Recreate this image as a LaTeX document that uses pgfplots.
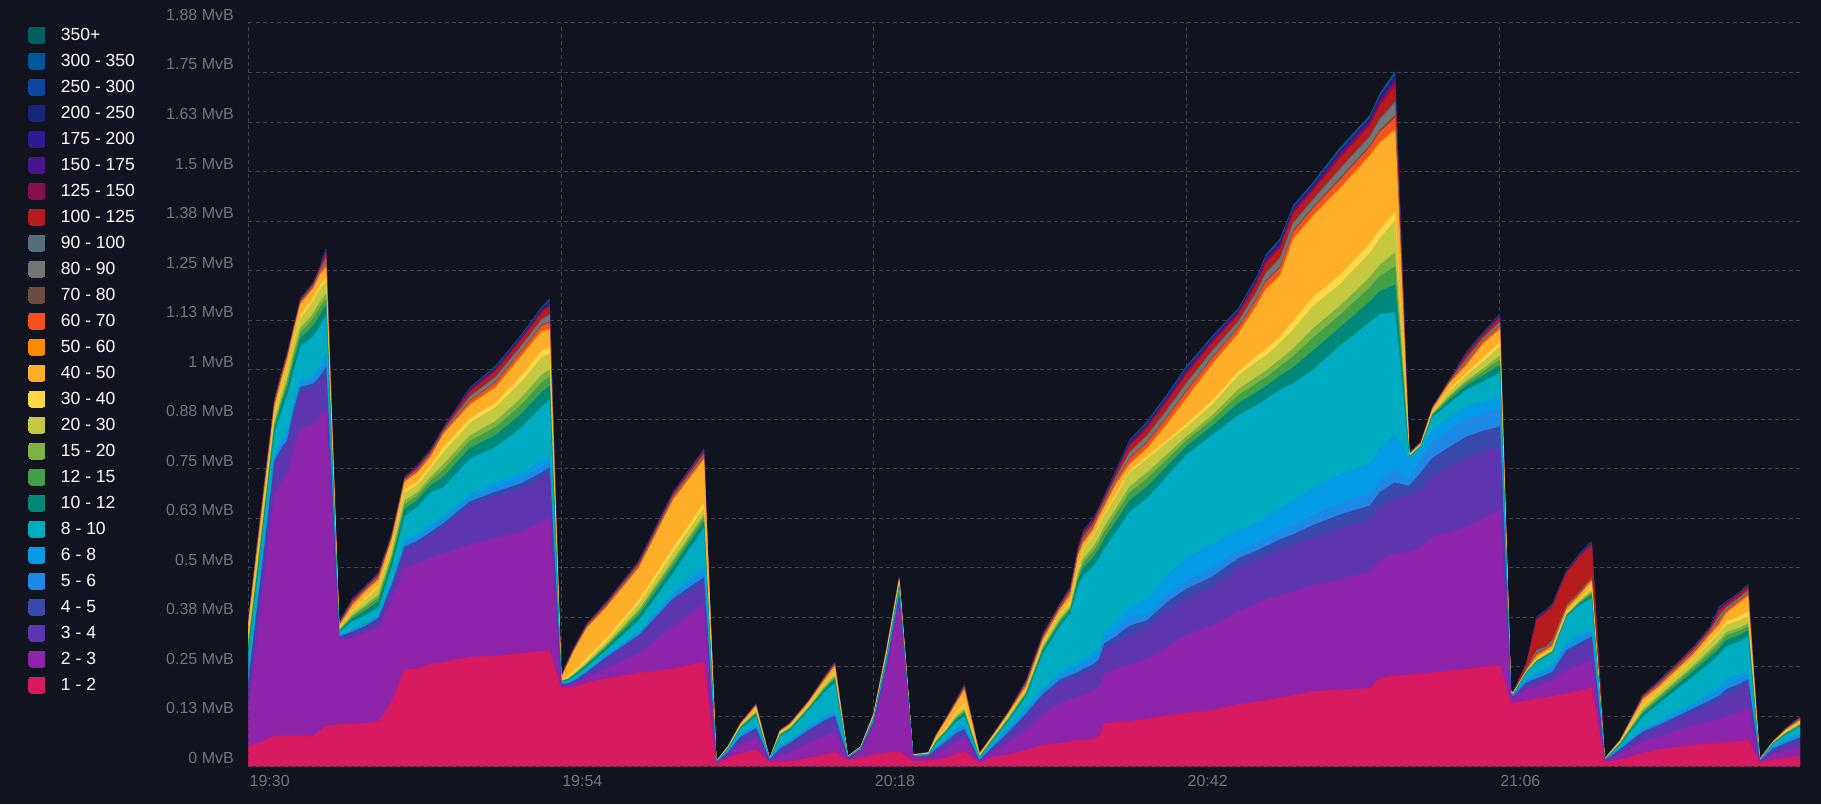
\documentclass[border=0pt]{standalone}
\usepackage{pgfplots}
\pgfplotsset{compat=1.18}
\usepackage{pgfplotstable}
\usepackage{fontspec}
\setmainfont{Liberation Sans}
\definecolor{bg}{HTML}{11131F}
\definecolor{gridcol}{HTML}{3E4150}
\definecolor{labcol}{HTML}{72757F}
\definecolor{fa}{HTML}{D81B60}
\definecolor{fb}{HTML}{8E24AA}
\definecolor{fc}{HTML}{5E35B1}
\definecolor{fd}{HTML}{3949AB}
\definecolor{fe}{HTML}{1E88E5}
\definecolor{ff}{HTML}{039BE5}
\definecolor{fg}{HTML}{00ACC1}
\definecolor{fh}{HTML}{00897B}
\definecolor{fi}{HTML}{43A047}
\definecolor{fj}{HTML}{7CB342}
\definecolor{fk}{HTML}{C4C941}
\definecolor{fl}{HTML}{FDD745}
\definecolor{fm}{HTML}{FFAE2A}
\definecolor{fn}{HTML}{FB8C00}
\definecolor{fo}{HTML}{F4511E}
\definecolor{fp}{HTML}{6D4C41}
\definecolor{fq}{HTML}{757575}
\definecolor{fr}{HTML}{546E7A}
\definecolor{fs}{HTML}{B71C1C}
\definecolor{ft}{HTML}{880E4F}
\definecolor{fu}{HTML}{4A148C}
\definecolor{fv}{HTML}{311B92}
\definecolor{fw}{HTML}{1A237E}
\definecolor{fx}{HTML}{0D47A1}
\definecolor{fy}{HTML}{01579B}
\definecolor{fz}{HTML}{006064}

\pgfplotstableread{
t c1 c2 c3 c4 c5 c6 c7 c8 c9 c10 c11 c12 c13 c14 c15 c16 c17 c18 c19 c20 c21 c22 c23 c24 c25 c26
0 0.050 0.094 0.063 0.006 0.006 0.006 0.055 0.015 0.010 0.0075 0.0175 0.0063 0.0187 0.0007 0.0032 0.0007 0.0032 0.0007 0.0043 0.0014 0.0007 0.0005 0.0005 0.0003 0.0003 0.0005
1 0.060 0.350 0.070 0.0067 0.0067 0.0066 0.060 0.012 0.008 0.006 0.014 0.0075 0.0225 0.0010 0.0048 0.0010 0.0048 0.0010 0.0063 0.0020 0.0010 0.0008 0.0008 0.0005 0.0005 0.0008
2 0.075 0.610 0.075 0.0083 0.0083 0.0084 0.055 0.012 0.008 0.006 0.014 0.0063 0.0187 0.0008 0.0038 0.0008 0.0038 0.0008 0.0050 0.0016 0.0008 0.0006 0.0006 0.0004 0.0004 0.0006
2.5 0.077 0.638 0.075 0.010 0.010 0.010 0.070 0.0165 0.011 0.0083 0.0192 0.0063 0.0187 0.0008 0.0038 0.0008 0.0038 0.0008 0.0050 0.0016 0.0008 0.0006 0.0006 0.0004 0.0004 0.0006
3 0.078 0.662 0.070 0.0123 0.0123 0.0124 0.090 0.0189 0.0126 0.0095 0.022 0.007 0.021 0.0007 0.0032 0.0007 0.0032 0.0007 0.0043 0.0014 0.0007 0.0005 0.0005 0.0003 0.0003 0.0005
3.5 0.077 0.723 0.090 0.010 0.010 0.010 0.080 0.021 0.014 0.0105 0.0245 0.0075 0.0225 0.0005 0.0025 0.0005 0.0025 0.0005 0.0033 0.0010 0.0005 0.0004 0.0004 0.0003 0.0003 0.0004
4 0.076 0.774 0.096 0.0097 0.0097 0.0096 0.085 0.021 0.014 0.0105 0.0245 0.0088 0.0262 0.0006 0.0029 0.0006 0.0029 0.0006 0.0038 0.0012 0.0006 0.0005 0.0005 0.0003 0.0003 0.0005
4.5 0.075 0.780 0.095 0.010 0.010 0.010 0.090 0.024 0.016 0.012 0.028 0.0088 0.0262 0.0006 0.0029 0.0006 0.0029 0.0006 0.0038 0.0012 0.0006 0.0005 0.0005 0.0003 0.0003 0.0005
5 0.075 0.785 0.095 0.010 0.010 0.010 0.100 0.027 0.018 0.0135 0.0315 0.0075 0.0225 0.0007 0.0032 0.0007 0.0032 0.0007 0.0043 0.0014 0.0007 0.0005 0.0005 0.0003 0.0003 0.0005
5.5 0.090 0.793 0.087 0.0133 0.0133 0.0134 0.100 0.0285 0.019 0.0143 0.0332 0.0088 0.0262 0.0009 0.0042 0.0009 0.0042 0.0009 0.0055 0.0018 0.0009 0.0007 0.0007 0.0004 0.0004 0.0007
5.95 0.100 0.797 0.093 0.0167 0.0167 0.0166 0.096 0.0252 0.0168 0.0126 0.0294 0.009 0.027 0.0020 0.0093 0.0020 0.0093 0.0020 0.0123 0.0039 0.0020 0.0015 0.0015 0.0010 0.0010 0.0015
6.95 0.105 0.210 0.009 0.002 0.002 0.002 0.007 0.0024 0.0016 0.0012 0.0028 0.0018 0.0052 0.0004 0.0019 0.0004 0.0019 0.0004 0.0025 0.0008 0.0004 0.0003 0.0003 0.0002 0.0002 0.0003
8 0.106 0.218 0.011 0.0033 0.0033 0.0034 0.020 0.0075 0.005 0.0038 0.0087 0.0038 0.0112 0.0008 0.0036 0.0008 0.0036 0.0008 0.0048 0.0015 0.0008 0.0006 0.0006 0.0004 0.0004 0.0006
9 0.108 0.227 0.015 0.0033 0.0033 0.0034 0.020 0.012 0.008 0.006 0.014 0.005 0.015 0.0006 0.0029 0.0006 0.0029 0.0006 0.0038 0.0012 0.0006 0.0005 0.0005 0.0003 0.0003 0.0005
10 0.112 0.238 0.020 0.0033 0.0033 0.0034 0.020 0.015 0.010 0.0075 0.0175 0.005 0.015 0.0008 0.0038 0.0008 0.0038 0.0008 0.0050 0.0016 0.0008 0.0006 0.0006 0.0004 0.0004 0.0006
11 0.162 0.258 0.030 0.005 0.005 0.005 0.035 0.015 0.010 0.0075 0.0175 0.005 0.015 0.0006 0.0029 0.0006 0.0029 0.0006 0.0038 0.0012 0.0006 0.0005 0.0005 0.0003 0.0003 0.0005
12 0.245 0.255 0.045 0.0083 0.0083 0.0084 0.060 0.018 0.012 0.009 0.021 0.0065 0.0195 0.0006 0.0027 0.0006 0.0027 0.0006 0.0035 0.0011 0.0006 0.0004 0.0004 0.0003 0.0003 0.0004
13 0.245 0.265 0.050 0.0083 0.0083 0.0084 0.070 0.0165 0.011 0.0083 0.0192 0.0075 0.0225 0.0008 0.0038 0.0008 0.0038 0.0008 0.0050 0.0016 0.0008 0.0006 0.0006 0.0004 0.0004 0.0006
14 0.258 0.267 0.055 0.010 0.010 0.010 0.080 0.018 0.012 0.009 0.021 0.0075 0.0225 0.0008 0.0038 0.0008 0.0038 0.0008 0.0050 0.0016 0.0008 0.0006 0.0006 0.0004 0.0004 0.0006
15 0.262 0.274 0.068 0.0087 0.0087 0.0086 0.073 0.027 0.018 0.0135 0.0315 0.0113 0.0337 0.0007 0.0034 0.0007 0.0034 0.0007 0.0045 0.0014 0.0007 0.0005 0.0005 0.0004 0.0004 0.0005
17 0.275 0.284 0.099 0.009 0.009 0.009 0.090 0.027 0.018 0.0135 0.0315 0.0113 0.0337 0.0018 0.0086 0.0018 0.0086 0.0018 0.0113 0.0036 0.0018 0.0014 0.0014 0.0009 0.0009 0.0014
19 0.277 0.298 0.105 0.0117 0.0117 0.0116 0.090 0.030 0.020 0.015 0.035 0.0125 0.0375 0.0022 0.0105 0.0022 0.0105 0.0022 0.0138 0.0044 0.0022 0.0017 0.0017 0.0011 0.0011 0.0017
21 0.285 0.305 0.110 0.0133 0.0133 0.0134 0.115 0.0345 0.023 0.0173 0.0402 0.0163 0.0487 0.0022 0.0105 0.0022 0.0105 0.0022 0.0138 0.0044 0.0022 0.0017 0.0017 0.0011 0.0011 0.0017
22.5 0.290 0.325 0.110 0.015 0.015 0.015 0.135 0.0375 0.025 0.0188 0.0437 0.0163 0.0487 0.0025 0.0120 0.0025 0.0120 0.0025 0.0158 0.0050 0.0025 0.0019 0.0019 0.0013 0.0013 0.0019
23.1 0.291 0.335 0.111 0.016 0.016 0.016 0.139 0.0348 0.0232 0.0174 0.0406 0.015 0.045 0.0031 0.0148 0.0031 0.0148 0.0031 0.0195 0.0062 0.0031 0.0023 0.0023 0.0016 0.0016 0.0023
24 0.196 0.004 0.005 0.001 0.001 0.001 0.004 0.0012 0.0008 0.0006 0.0014 0.001 0.003 0.0002 0.0010 0.0002 0.0010 0.0002 0.0012 0.0004 0.0002 0.0002 0.0002 0.0001 0.0001 0.0001
24.5 0.197 0.006 0.004 0.001 0.001 0.001 0.005 0.0021 0.0014 0.0011 0.0024 0.0033 0.0297 0.0004 0.0019 0.0004 0.0019 0.0004 0.0025 0.0008 0.0004 0.0003 0.0003 0.0002 0.0002 0.0003
25 0.200 0.009 0.004 0.0013 0.0013 0.0014 0.008 0.003 0.002 0.0015 0.0035 0.0055 0.0495 0.0004 0.0019 0.0004 0.0019 0.0004 0.0025 0.0008 0.0004 0.0003 0.0003 0.0002 0.0002 0.0003
26 0.210 0.012 0.013 0.0017 0.0017 0.0016 0.010 0.0045 0.003 0.0023 0.0052 0.0083 0.0747 0.0005 0.0023 0.0005 0.0023 0.0005 0.0030 0.0010 0.0005 0.0004 0.0004 0.0002 0.0002 0.0004
27.5 0.220 0.026 0.026 0.0027 0.0027 0.0026 0.013 0.0063 0.0042 0.0032 0.0073 0.0086 0.0774 0.0006 0.0029 0.0006 0.0029 0.0006 0.0038 0.0012 0.0006 0.0005 0.0005 0.0003 0.0003 0.0005
30 0.235 0.049 0.042 0.0043 0.0043 0.0044 0.029 0.0126 0.0084 0.0063 0.0147 0.009 0.081 0.0008 0.0038 0.0008 0.0038 0.0008 0.0050 0.0016 0.0008 0.0006 0.0006 0.0004 0.0004 0.0006
32.6 0.245 0.107 0.063 0.007 0.007 0.007 0.050 0.0153 0.0102 0.0077 0.0178 0.0133 0.1197 0.0009 0.0042 0.0009 0.0042 0.0009 0.0055 0.0018 0.0009 0.0007 0.0007 0.0004 0.0004 0.0007
34.95 0.262 0.144 0.055 0.014 0.014 0.014 0.097 0.015 0.010 0.0075 0.0175 0.0122 0.1098 0.0011 0.0053 0.0011 0.0053 0.0011 0.0070 0.0022 0.0011 0.0008 0.0008 0.0006 0.0006 0.0008
35.9 0.005 0.001 0.001 0.0003 0.0003 0.0004 0.001 0.0003 0.0002 0.0002 0.0003 0.0003 0.0007 0.0001 0.0002 0.0001 0.0002 0.0001 0.0002 0.0001 0.0001 0.0001 0.0001 0.0001 0.0001 0.0001
36.8 0.020 0.008 0.005 0.001 0.001 0.001 0.006 0.0012 0.0008 0.0006 0.0014 0.0005 0.0015 0.0001 0.0002 0.0001 0.0002 0.0001 0.0002 0.0001 0.0001 0.0001 0.0001 0.0001 0.0001 0.0001
37.8 0.032 0.023 0.015 0.0033 0.0033 0.0034 0.015 0.0021 0.0014 0.0011 0.0024 0.001 0.003 0.0002 0.0008 0.0002 0.0008 0.0002 0.0010 0.0003 0.0002 0.0001 0.0001 0.0001 0.0001 0.0001
38.95 0.040 0.030 0.020 0.0043 0.0043 0.0044 0.022 0.0048 0.0032 0.0024 0.0056 0.0023 0.0067 0.0003 0.0013 0.0003 0.0013 0.0003 0.0018 0.0006 0.0003 0.0002 0.0002 0.0001 0.0001 0.0002
40 0.010 0.002 0.002 0.0003 0.0003 0.0004 0.001 0.0003 0.0002 0.0002 0.0003 0.0001 0.0004 0.0001 0.0002 0.0001 0.0002 0.0001 0.0002 0.0001 0.0001 0.0001 0.0001 0.0001 0.0001 0.0001
40.8 0.010 0.015 0.015 0.0033 0.0033 0.0034 0.025 0.0024 0.0016 0.0012 0.0028 0.001 0.003 0.0001 0.0006 0.0001 0.0006 0.0001 0.0008 0.0002 0.0001 0.0001 0.0001 0.0001 0.0001 0.0001
41.6 0.012 0.023 0.020 0.0033 0.0033 0.0034 0.025 0.003 0.002 0.0015 0.0035 0.0013 0.0037 0.0002 0.0010 0.0002 0.0010 0.0002 0.0012 0.0004 0.0002 0.0002 0.0002 0.0001 0.0001 0.0001
43 0.020 0.038 0.027 0.005 0.005 0.005 0.040 0.0036 0.0024 0.0018 0.0042 0.002 0.006 0.0002 0.0010 0.0002 0.0010 0.0002 0.0012 0.0004 0.0002 0.0002 0.0002 0.0001 0.0001 0.0001
44.2 0.028 0.047 0.033 0.0057 0.0057 0.0056 0.060 0.006 0.004 0.003 0.007 0.0025 0.0075 0.0004 0.0019 0.0004 0.0019 0.0004 0.0025 0.0008 0.0004 0.0003 0.0003 0.0002 0.0002 0.0003
45 0.034 0.051 0.035 0.006 0.006 0.006 0.072 0.0075 0.005 0.0038 0.0087 0.0038 0.0112 0.0005 0.0023 0.0005 0.0023 0.0005 0.0030 0.0010 0.0005 0.0004 0.0004 0.0002 0.0002 0.0004
46 0.015 0.003 0.002 0.0003 0.0003 0.0004 0.001 0.0003 0.0002 0.0002 0.0003 0.0003 0.0007 0.0001 0.0002 0.0001 0.0002 0.0001 0.0002 0.0001 0.0001 0.0001 0.0001 0.0001 0.0001 0.0001
47 0.020 0.015 0.005 0.0007 0.0007 0.0006 0.003 0.0006 0.0004 0.0003 0.0007 0.0003 0.0007 0.0001 0.0002 0.0001 0.0002 0.0001 0.0002 0.0001 0.0001 0.0001 0.0001 0.0001 0.0001 0.0001
48 0.028 0.072 0.010 0.0013 0.0013 0.0014 0.006 0.0018 0.0012 0.0009 0.0021 0.001 0.003 0.0002 0.0010 0.0002 0.0010 0.0002 0.0012 0.0004 0.0002 0.0002 0.0002 0.0001 0.0001 0.0001
49 0.034 0.206 0.015 0.0023 0.0023 0.0024 0.012 0.0033 0.0022 0.0017 0.0038 0.0018 0.0052 0.0003 0.0015 0.0003 0.0015 0.0003 0.0020 0.0006 0.0003 0.0002 0.0002 0.0002 0.0002 0.0002
49.95 0.036 0.374 0.015 0.0027 0.0027 0.0026 0.014 0.0039 0.0026 0.002 0.0045 0.002 0.006 0.0003 0.0015 0.0003 0.0015 0.0003 0.0020 0.0006 0.0003 0.0002 0.0002 0.0002 0.0002 0.0002
51 0.012 0.008 0.003 0.0003 0.0003 0.0004 0.002 0.0003 0.0002 0.0002 0.0003 0.0003 0.0007 0.0001 0.0002 0.0001 0.0002 0.0001 0.0002 0.0001 0.0001 0.0001 0.0001 0.0001 0.0001 0.0001
52.2 0.014 0.008 0.003 0.0007 0.0007 0.0006 0.002 0.0006 0.0004 0.0003 0.0007 0.0005 0.0015 0.0001 0.0002 0.0001 0.0002 0.0001 0.0002 0.0001 0.0001 0.0001 0.0001 0.0001 0.0001 0.0001
52.8 0.015 0.015 0.010 0.0027 0.0027 0.0026 0.010 0.0024 0.0016 0.0012 0.0028 0.0014 0.0076 0.0002 0.0010 0.0002 0.0010 0.0002 0.0012 0.0004 0.0002 0.0002 0.0002 0.0001 0.0001 0.0001
53.6 0.020 0.025 0.013 0.004 0.004 0.004 0.015 0.003 0.002 0.0015 0.0035 0.0033 0.0187 0.0003 0.0015 0.0003 0.0015 0.0003 0.0020 0.0006 0.0003 0.0002 0.0002 0.0002 0.0002 0.0002
54.3 0.030 0.030 0.015 0.0067 0.0067 0.0066 0.015 0.006 0.004 0.003 0.007 0.0038 0.0212 0.0004 0.0019 0.0004 0.0019 0.0004 0.0025 0.0008 0.0004 0.0003 0.0003 0.0002 0.0002 0.0003
54.95 0.036 0.034 0.015 0.0067 0.0067 0.0066 0.020 0.0075 0.005 0.0038 0.0087 0.006 0.034 0.0006 0.0029 0.0006 0.0029 0.0006 0.0038 0.0012 0.0006 0.0005 0.0005 0.0003 0.0003 0.0005
56.1 0.007 0.003 0.003 0.001 0.001 0.001 0.004 0.0015 0.001 0.0008 0.0017 0.001 0.003 0.0001 0.0006 0.0001 0.0006 0.0001 0.0008 0.0002 0.0001 0.0001 0.0001 0.0001 0.0001 0.0001
57.2 0.024 0.012 0.009 0.004 0.004 0.004 0.009 0.0024 0.0016 0.0012 0.0028 0.001 0.003 0.0002 0.0008 0.0002 0.0008 0.0002 0.0010 0.0003 0.0002 0.0001 0.0001 0.0001 0.0001 0.0001
58.4 0.028 0.033 0.019 0.0067 0.0067 0.0066 0.015 0.0039 0.0026 0.002 0.0045 0.0018 0.0052 0.0002 0.0011 0.0002 0.0011 0.0002 0.0015 0.0005 0.0002 0.0002 0.0002 0.0001 0.0001 0.0002
59.7 0.040 0.051 0.033 0.0073 0.0073 0.0074 0.029 0.0051 0.0034 0.0026 0.0059 0.002 0.006 0.0007 0.0032 0.0007 0.0032 0.0007 0.0043 0.0014 0.0007 0.0005 0.0005 0.0003 0.0003 0.0005
61 0.053 0.080 0.042 0.0067 0.0067 0.0066 0.089 0.0078 0.0052 0.0039 0.0091 0.002 0.006 0.0007 0.0032 0.0007 0.0032 0.0007 0.0043 0.0014 0.0007 0.0005 0.0005 0.0003 0.0003 0.0005
62.3 0.057 0.101 0.051 0.0083 0.0083 0.0084 0.118 0.0087 0.0058 0.0044 0.0101 0.0033 0.0097 0.0006 0.0030 0.0006 0.0030 0.0006 0.0040 0.0013 0.0006 0.0005 0.0005 0.0003 0.0003 0.0005
63.1 0.062 0.106 0.050 0.0107 0.0107 0.0106 0.135 0.0075 0.005 0.0038 0.0087 0.005 0.015 0.0009 0.0044 0.0009 0.0044 0.0009 0.0058 0.0018 0.0009 0.0007 0.0007 0.0005 0.0005 0.0007
63.7 0.065 0.110 0.050 0.0117 0.0117 0.0116 0.195 0.0135 0.009 0.0068 0.0157 0.0075 0.0225 0.0009 0.0044 0.0009 0.0044 0.0009 0.0058 0.0018 0.0009 0.0007 0.0007 0.0005 0.0005 0.0007
64.1 0.066 0.114 0.052 0.0127 0.0127 0.0126 0.210 0.0195 0.013 0.0098 0.0227 0.0043 0.0127 0.0013 0.0063 0.0013 0.0063 0.0013 0.0083 0.0026 0.0013 0.0010 0.0010 0.0007 0.0007 0.0010
64.85 0.067 0.121 0.054 0.0143 0.0143 0.0144 0.218 0.0228 0.0152 0.0114 0.0266 0.004 0.012 0.0012 0.0057 0.0012 0.0057 0.0012 0.0075 0.0024 0.0012 0.0009 0.0009 0.0006 0.0006 0.0009
65.3 0.075 0.122 0.058 0.0135 0.0135 0.0135 0.228 0.024 0.016 0.012 0.028 0.0063 0.0187 0.0010 0.0048 0.0010 0.0048 0.0010 0.0063 0.0020 0.0010 0.0008 0.0008 0.0005 0.0005 0.0008
65.7 0.106 0.127 0.062 0.0135 0.0135 0.0135 0.212 0.0255 0.017 0.0128 0.0297 0.005 0.015 0.0012 0.0057 0.0012 0.0057 0.0012 0.0075 0.0024 0.0012 0.0009 0.0009 0.0006 0.0006 0.0009
66.6 0.110 0.135 0.065 0.0167 0.0167 0.0166 0.230 0.027 0.018 0.0135 0.0315 0.0075 0.0225 0.0015 0.0070 0.0015 0.0070 0.0015 0.0093 0.0030 0.0015 0.0011 0.0011 0.0007 0.0007 0.0011
67.65 0.112 0.143 0.075 0.0233 0.0233 0.0234 0.240 0.030 0.020 0.015 0.035 0.005 0.015 0.0025 0.0120 0.0025 0.0120 0.0025 0.0158 0.0050 0.0025 0.0019 0.0019 0.0013 0.0013 0.0019
69 0.118 0.152 0.080 0.0175 0.014 0.0385 0.255 0.030 0.020 0.015 0.035 0.0063 0.0187 0.0028 0.0133 0.0028 0.0133 0.0028 0.0175 0.0056 0.0028 0.0021 0.0021 0.0014 0.0014 0.0021
70.5 0.127 0.173 0.090 0.0225 0.018 0.0495 0.250 0.0255 0.017 0.0128 0.0297 0.0068 0.0382 0.0031 0.0146 0.0031 0.0146 0.0031 0.0193 0.0062 0.0031 0.0023 0.0023 0.0015 0.0015 0.0023
72 0.133 0.197 0.090 0.0263 0.021 0.0577 0.260 0.021 0.014 0.0105 0.0245 0.007 0.063 0.0033 0.0158 0.0033 0.0158 0.0033 0.0208 0.0066 0.0033 0.0025 0.0025 0.0017 0.0017 0.0025
74 0.140 0.215 0.095 0.0275 0.022 0.0605 0.275 0.0231 0.0154 0.0116 0.0269 0.010 0.090 0.0029 0.0139 0.0029 0.0139 0.0029 0.0183 0.0058 0.0029 0.0022 0.0022 0.0015 0.0015 0.0022
76 0.155 0.235 0.110 0.0238 0.019 0.0522 0.290 0.030 0.020 0.015 0.035 0.0105 0.0945 0.0026 0.0124 0.0026 0.0124 0.0026 0.0163 0.0052 0.0026 0.0020 0.0020 0.0013 0.0013 0.0020
77.4 0.162 0.248 0.110 0.023 0.0184 0.0506 0.298 0.033 0.022 0.0165 0.0385 0.014 0.126 0.0030 0.0143 0.0030 0.0143 0.0030 0.0188 0.0060 0.0030 0.0023 0.0023 0.0015 0.0015 0.0023
78.1 0.165 0.255 0.110 0.0238 0.019 0.0522 0.300 0.033 0.022 0.0165 0.0385 0.0165 0.1485 0.0036 0.0171 0.0036 0.0171 0.0036 0.0225 0.0072 0.0036 0.0027 0.0027 0.0018 0.0018 0.0027
79.2 0.172 0.258 0.115 0.0263 0.021 0.0577 0.299 0.0354 0.0236 0.0177 0.0413 0.0168 0.1512 0.0038 0.0181 0.0038 0.0181 0.0038 0.0238 0.0076 0.0038 0.0029 0.0029 0.0019 0.0019 0.0029
80.2 0.178 0.262 0.115 0.0288 0.023 0.0632 0.295 0.0405 0.027 0.0203 0.0472 0.0227 0.2043 0.0035 0.0167 0.0035 0.0167 0.0035 0.0220 0.0070 0.0035 0.0026 0.0026 0.0018 0.0018 0.0026
81.7 0.188 0.267 0.121 0.031 0.0248 0.0682 0.299 0.048 0.032 0.024 0.056 0.0227 0.2043 0.0034 0.0163 0.0034 0.0163 0.0034 0.0215 0.0069 0.0034 0.0026 0.0026 0.0017 0.0017 0.0026
83.8 0.192 0.278 0.130 0.0338 0.027 0.0742 0.325 0.0465 0.031 0.0233 0.0542 0.024 0.216 0.0042 0.0200 0.0042 0.0200 0.0042 0.0263 0.0084 0.0042 0.0032 0.0032 0.0021 0.0021 0.0032
86.1 0.196 0.294 0.131 0.0358 0.0286 0.0786 0.356 0.0522 0.0348 0.0261 0.0609 0.0244 0.2196 0.0042 0.0198 0.0042 0.0198 0.0042 0.0260 0.0083 0.0042 0.0031 0.0031 0.0021 0.0021 0.0031
86.85 0.221 0.299 0.134 0.0365 0.0292 0.0803 0.340 0.057 0.038 0.0285 0.0665 0.024 0.216 0.0051 0.0241 0.0051 0.0241 0.0051 0.0318 0.0102 0.0051 0.0038 0.0038 0.0025 0.0025 0.0038
88 0.228 0.307 0.140 0.040 0.032 0.088 0.310 0.069 0.046 0.0345 0.0805 0.0225 0.2025 0.0061 0.0289 0.0061 0.0289 0.0061 0.0380 0.0122 0.0061 0.0046 0.0046 0.0030 0.0030 0.0046
89.1 0.230 0.311 0.143 0.022 0.0176 0.0484 0.006 0.0012 0.0008 0.0006 0.0014 0.0008 0.0022 0.0002 0.0008 0.0002 0.0008 0.0002 0.0010 0.0003 0.0002 0.0001 0.0001 0.0001 0.0001 0.0001
90 0.232 0.318 0.150 0.040 0.035 0.025 0.006 0.0012 0.0008 0.0006 0.0014 0.0008 0.0022 0.0002 0.0010 0.0002 0.0010 0.0002 0.0012 0.0004 0.0002 0.0002 0.0002 0.0001 0.0001 0.0001
90.9 0.236 0.343 0.151 0.0472 0.0413 0.0295 0.033 0.0036 0.0024 0.0018 0.0042 0.0018 0.0052 0.0003 0.0013 0.0003 0.0013 0.0003 0.0018 0.0006 0.0003 0.0002 0.0002 0.0001 0.0001 0.0002
92.2 0.240 0.350 0.165 0.0492 0.0431 0.0307 0.037 0.009 0.006 0.0045 0.0105 0.005 0.015 0.0004 0.0019 0.0004 0.0019 0.0004 0.0025 0.0008 0.0004 0.0003 0.0003 0.0002 0.0002 0.0003
93.5 0.245 0.359 0.176 0.0508 0.0445 0.0317 0.042 0.0108 0.0072 0.0054 0.0126 0.0063 0.0187 0.0014 0.0067 0.0014 0.0067 0.0014 0.0088 0.0028 0.0014 0.0011 0.0011 0.0007 0.0007 0.0011
94.8 0.250 0.375 0.170 0.050 0.0438 0.0312 0.050 0.015 0.010 0.0075 0.0175 0.0113 0.0337 0.0012 0.0059 0.0012 0.0059 0.0012 0.0078 0.0025 0.0012 0.0009 0.0009 0.0006 0.0006 0.0009
96.05 0.255 0.391 0.160 0.0504 0.0441 0.0315 0.059 0.0201 0.0134 0.0101 0.0234 0.0105 0.0315 0.0016 0.0076 0.0016 0.0076 0.0016 0.0100 0.0032 0.0016 0.0012 0.0012 0.0008 0.0008 0.0012
96.9 0.160 0.015 0.003 0.0008 0.0007 0.0005 0.002 0.0006 0.0004 0.0003 0.0007 0.0005 0.0015 0.0002 0.0008 0.0002 0.0008 0.0002 0.0010 0.0003 0.0002 0.0001 0.0001 0.0001 0.0001 0.0001
97.1 0.158 0.014 0.003 0.001 0.001 0.001 0.002 0.0006 0.0004 0.0003 0.0007 0.0005 0.0015 0.0002 0.0008 0.0002 0.0008 0.0002 0.0010 0.0003 0.0002 0.0001 0.0001 0.0001 0.0001 0.0001
98.1 0.165 0.030 0.010 0.005 0.005 0.005 0.015 0.0009 0.0006 0.0005 0.001 0.0005 0.0015 0.0005 0.0015 0.0005 0.0010 0.0005 0.0120 0.0015 0.0003 0.0003 0.0003 0.0002 0.0002 0.0002
98.9 0.170 0.030 0.013 0.0073 0.0073 0.0074 0.027 0.0018 0.0012 0.0009 0.0021 0.0018 0.0052 0.0030 0.0050 0.0020 0.0050 0.0030 0.0760 0.0030 0.0010 0.0010 0.0010 0.0007 0.0007 0.0006
99.6 0.173 0.037 0.012 0.0077 0.0077 0.0076 0.030 0.0024 0.0016 0.0012 0.0028 0.0018 0.0052 0.0020 0.0030 0.0010 0.0030 0.0010 0.0860 0.0030 0.0010 0.0010 0.0010 0.0007 0.0007 0.0006
100.1 0.176 0.039 0.013 0.009 0.009 0.009 0.030 0.0021 0.0014 0.0011 0.0024 0.002 0.006 0.0030 0.0050 0.0020 0.0050 0.0030 0.0840 0.0030 0.0010 0.0010 0.0010 0.0007 0.0007 0.0006
101.2 0.183 0.059 0.042 0.0087 0.0087 0.0086 0.067 0.0024 0.0016 0.0012 0.0028 0.0025 0.0075 0.0020 0.0030 0.0010 0.0030 0.0010 0.0820 0.0030 0.0010 0.0010 0.0010 0.0007 0.0007 0.0006
102.2 0.190 0.065 0.045 0.010 0.010 0.010 0.076 0.0042 0.0028 0.0021 0.0049 0.0025 0.0075 0.0020 0.0030 0.0010 0.0030 0.0010 0.0880 0.0030 0.0012 0.0012 0.0010 0.0008 0.0008 0.0008
103.1 0.196 0.071 0.051 0.0083 0.0083 0.0084 0.080 0.0075 0.005 0.0038 0.0087 0.0043 0.0127 0.0020 0.0030 0.0010 0.0020 0.0010 0.0830 0.0030 0.0012 0.0012 0.0010 0.0008 0.0008 0.0008
104.1 0.010 0.002 0.001 0.0003 0.0003 0.0004 0.001 0.0003 0.0002 0.0002 0.0003 0.0003 0.0007 0.0002 0.0004 0.0001 0.0003 0.0001 0.0008 0.0003 0.0002 0.0002 0.0001 0.0001 0.0001 0.0001
105.3 0.015 0.015 0.010 0.0017 0.0017 0.0016 0.008 0.0021 0.0014 0.0011 0.0024 0.0008 0.0022 0.0001 0.0006 0.0001 0.0006 0.0001 0.0008 0.0002 0.0001 0.0001 0.0001 0.0001 0.0001 0.0001
107.05 0.032 0.029 0.021 0.0043 0.0043 0.0044 0.029 0.0078 0.0052 0.0039 0.0091 0.0043 0.0127 0.0005 0.0025 0.0005 0.0025 0.0005 0.0033 0.0010 0.0005 0.0004 0.0004 0.0003 0.0003 0.0004
108.3 0.042 0.032 0.025 0.0043 0.0043 0.0044 0.046 0.009 0.006 0.0045 0.0105 0.003 0.009 0.0007 0.0032 0.0007 0.0032 0.0007 0.0043 0.0014 0.0007 0.0005 0.0005 0.0003 0.0003 0.0005
110.9 0.053 0.050 0.034 0.007 0.007 0.007 0.067 0.0126 0.0084 0.0063 0.0147 0.0033 0.0097 0.0008 0.0038 0.0008 0.0038 0.0008 0.0050 0.0016 0.0008 0.0006 0.0006 0.0004 0.0004 0.0006
112.2 0.056 0.056 0.043 0.010 0.010 0.010 0.075 0.015 0.010 0.0075 0.0175 0.005 0.015 0.0009 0.0042 0.0009 0.0042 0.0009 0.0055 0.0018 0.0009 0.0007 0.0007 0.0004 0.0004 0.0007
112.9 0.058 0.060 0.047 0.0117 0.0117 0.0116 0.080 0.0165 0.011 0.0083 0.0192 0.005 0.015 0.0019 0.0089 0.0019 0.0089 0.0019 0.0118 0.0038 0.0019 0.0014 0.0014 0.0009 0.0009 0.0014
113.45 0.059 0.066 0.054 0.014 0.014 0.014 0.080 0.0165 0.011 0.0083 0.0192 0.0073 0.0217 0.0012 0.0057 0.0012 0.0057 0.0012 0.0075 0.0024 0.0012 0.0009 0.0009 0.0006 0.0006 0.0009
114.5 0.062 0.073 0.060 0.0117 0.0117 0.0116 0.085 0.0156 0.0104 0.0078 0.0182 0.0113 0.0337 0.0011 0.0053 0.0011 0.0053 0.0011 0.0070 0.0022 0.0011 0.0008 0.0008 0.0006 0.0006 0.0008
115.1 0.066 0.080 0.063 0.0097 0.0097 0.0096 0.088 0.0153 0.0102 0.0077 0.0178 0.0125 0.0375 0.0012 0.0059 0.0012 0.0059 0.0012 0.0078 0.0025 0.0012 0.0009 0.0009 0.0006 0.0006 0.0009
116 0.008 0.002 0.001 0.0003 0.0003 0.0004 0.001 0.0003 0.0002 0.0002 0.0003 0.0003 0.0007 0.0002 0.0008 0.0002 0.0008 0.0002 0.0010 0.0003 0.0002 0.0001 0.0001 0.0001 0.0001 0.0001
117 0.015 0.015 0.010 0.0027 0.0027 0.0026 0.007 0.0009 0.0006 0.0005 0.001 0.0003 0.0007 0.0001 0.0002 0.0001 0.0002 0.0001 0.0002 0.0001 0.0001 0.0001 0.0001 0.0001 0.0001 0.0001
118 0.020 0.020 0.013 0.004 0.004 0.004 0.013 0.0024 0.0016 0.0012 0.0028 0.001 0.003 0.0002 0.0010 0.0002 0.0010 0.0002 0.0012 0.0004 0.0002 0.0002 0.0002 0.0001 0.0001 0.0001
119.1 0.025 0.024 0.017 0.0053 0.0053 0.0054 0.017 0.0027 0.0018 0.0014 0.0031 0.0015 0.0045 0.0004 0.0019 0.0004 0.0019 0.0004 0.0025 0.0008 0.0004 0.0003 0.0003 0.0002 0.0002 0.0003
}\mempool

\pgfplotsset{layer/.style={fill=#1, draw=#1, line width=0.5pt, line join=round}}

\begin{document}
\begin{tikzpicture}
\fill[bg] (0,0) rectangle (1821pt,804pt);
\begin{axis}[
  at={(248.5pt,38pt)}, anchor=south west,
  width=1551.5pt, height=743pt, scale only axis,
  xmin=0, xmax=119.1, ymin=0, ymax=1.875,
  stack plots=y,
  axis line style={draw=none},
  tick style={draw=none},
  major tick length=0pt,
  xtick={0,24,48,72,96},
  xticklabels={19:30,19:54,20:18,20:42,21:06},
  ytick={0,0.125,0.25,0.375,0.5,0.625,0.75,0.875,1,1.125,1.25,1.375,1.5,1.625,1.75,1.875},
  yticklabels={0 MvB,0.13 MvB,0.25 MvB,0.38 MvB,0.5 MvB,0.63 MvB,0.75 MvB,0.88 MvB,1 MvB,1.13 MvB,1.25 MvB,1.38 MvB,1.5 MvB,1.63 MvB,1.75 MvB,1.88 MvB},
  grid=major,
  major grid style={draw=gridcol, line width=1pt, dash pattern=on 4pt off 3pt},
  xticklabel style={anchor=north west, inner sep=0pt, xshift=1pt, yshift=-9pt, font=\fontsize{16}{19}\selectfont, text=labcol},
  yticklabel style={anchor=east, inner sep=0pt, xshift=-14.5pt, yshift=8pt, font=\fontsize{16}{19}\selectfont, text=labcol},
  legend cell align=left,
  reverse legend,
  legend image code/.code={\fill[#1, line width=0pt, rounded corners=2.5pt] (0pt,-8pt) rectangle (16pt,8pt);},
  legend style={at={(axis description cs:-0.14148,0.99462)}, anchor=north west, draw=none, fill=none,
    inner sep=0pt, outer sep=0pt, row sep=10pt, column sep=16pt,
    font=\fontsize{17.5}{20}\selectfont, text=white, nodes={inner sep=0pt}},
]
\addplot[layer=fa] table[x=t, y=c1]{\mempool} \closedcycle; \addlegendentry{1 - 2}
\addplot[layer=fb] table[x=t, y=c2]{\mempool} \closedcycle; \addlegendentry{2 - 3}
\addplot[layer=fc] table[x=t, y=c3]{\mempool} \closedcycle; \addlegendentry{3 - 4}
\addplot[layer=fd] table[x=t, y=c4]{\mempool} \closedcycle; \addlegendentry{4 - 5}
\addplot[layer=fe] table[x=t, y=c5]{\mempool} \closedcycle; \addlegendentry{5 - 6}
\addplot[layer=ff] table[x=t, y=c6]{\mempool} \closedcycle; \addlegendentry{6 - 8}
\addplot[layer=fg] table[x=t, y=c7]{\mempool} \closedcycle; \addlegendentry{8 - 10}
\addplot[layer=fh] table[x=t, y=c8]{\mempool} \closedcycle; \addlegendentry{10 - 12}
\addplot[layer=fi] table[x=t, y=c9]{\mempool} \closedcycle; \addlegendentry{12 - 15}
\addplot[layer=fj] table[x=t, y=c10]{\mempool} \closedcycle; \addlegendentry{15 - 20}
\addplot[layer=fk] table[x=t, y=c11]{\mempool} \closedcycle; \addlegendentry{20 - 30}
\addplot[layer=fl] table[x=t, y=c12]{\mempool} \closedcycle; \addlegendentry{30 - 40}
\addplot[layer=fm] table[x=t, y=c13]{\mempool} \closedcycle; \addlegendentry{40 - 50}
\addplot[layer=fn] table[x=t, y=c14]{\mempool} \closedcycle; \addlegendentry{50 - 60}
\addplot[layer=fo] table[x=t, y=c15]{\mempool} \closedcycle; \addlegendentry{60 - 70}
\addplot[layer=fp] table[x=t, y=c16]{\mempool} \closedcycle; \addlegendentry{70 - 80}
\addplot[layer=fq] table[x=t, y=c17]{\mempool} \closedcycle; \addlegendentry{80 - 90}
\addplot[layer=fr] table[x=t, y=c18]{\mempool} \closedcycle; \addlegendentry{90 - 100}
\addplot[layer=fs] table[x=t, y=c19]{\mempool} \closedcycle; \addlegendentry{100 - 125}
\addplot[layer=ft] table[x=t, y=c20]{\mempool} \closedcycle; \addlegendentry{125 - 150}
\addplot[layer=fu] table[x=t, y=c21]{\mempool} \closedcycle; \addlegendentry{150 - 175}
\addplot[layer=fv] table[x=t, y=c22]{\mempool} \closedcycle; \addlegendentry{175 - 200}
\addplot[layer=fw] table[x=t, y=c23]{\mempool} \closedcycle; \addlegendentry{200 - 250}
\addplot[layer=fx] table[x=t, y=c24]{\mempool} \closedcycle; \addlegendentry{250 - 300}
\addplot[layer=fy] table[x=t, y=c25]{\mempool} \closedcycle; \addlegendentry{300 - 350}
\addplot[layer=fz] table[x=t, y=c26]{\mempool} \closedcycle; \addlegendentry{350+}
\end{axis}
\end{tikzpicture}
\end{document}
